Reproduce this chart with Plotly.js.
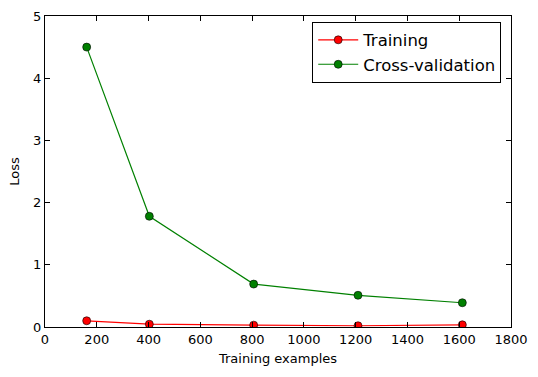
<!DOCTYPE html>
<html>
<head>
<meta charset="utf-8">
<script src="https://cdn.plot.ly/plotly-3.0.1.min.js"></script>
<style>html,body{margin:0;padding:0;background:#fff}#chart{width:538px;height:377px}</style>
</head>
<body>
<div id="chart"></div>
<script>
const trainingExamples = [161, 403, 806, 1209, 1612];
const trainingLoss = [0.10, 0.045, 0.03, 0.02, 0.035];
const cvLoss = [4.50, 1.78, 0.69, 0.51, 0.39];
const xTicks = [0, 200, 400, 600, 800, 1000, 1200, 1400, 1600, 1800];
const yTicks = [0, 1, 2, 3, 4, 5];

const font = {family: 'DejaVu Sans, sans-serif', size: 13, color: '#000'};

const traces = [
  {x: trainingExamples, y: trainingLoss, name: 'Training', mode: 'lines+markers',
   line: {color: '#ff0000', width: 1.2},
   marker: {color: '#ff0000', size: 8, line: {color: '#000', width: 0.6}}},
  {x: trainingExamples, y: cvLoss, name: 'Cross-validation', mode: 'lines+markers',
   line: {color: '#008000', width: 1.2},
   marker: {color: '#008000', size: 8, line: {color: '#000', width: 0.6}}}
];

const axisCommon = {
  showgrid: false, zeroline: false, showline: true, linecolor: '#000', linewidth: 1,
  mirror: 'ticks', ticks: 'inside', ticklen: 5, tickcolor: '#000', tickwidth: 1,
  tickfont: font
};

const layout = {
  width: 538, height: 377,
  margin: {l: 45, r: 27, t: 16, b: 50},
  paper_bgcolor: '#fff', plot_bgcolor: '#fff',
  font: font,
  showlegend: true,
  xaxis: Object.assign({}, axisCommon, {range: [0, 1800], tickvals: xTicks,
    title: {text: 'Training examples', font: font, standoff: 8}}),
  yaxis: Object.assign({}, axisCommon, {range: [0, 5], tickvals: yTicks,
    title: {text: 'Loss', font: font, standoff: 10}}),
  legend: {x: 0.979, y: 0.982, xanchor: 'right', yanchor: 'top',
    bordercolor: '#000', borderwidth: 1, bgcolor: '#fff',
    font: {family: 'DejaVu Sans, sans-serif', size: 16.5, color: '#000'},
    itemwidth: 40, tracegroupgap: 0}
};

Plotly.newPlot('chart', traces, layout, {displayModeBar: false, staticPlot: true});
</script>
</body>
</html>
